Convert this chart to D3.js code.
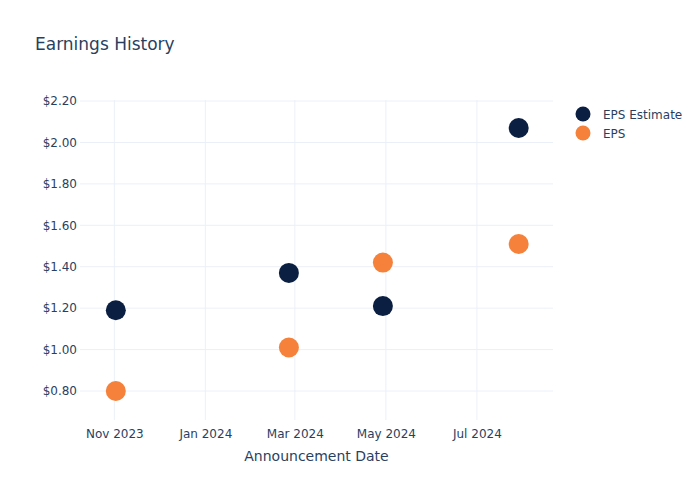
<!DOCTYPE html>
<html><head><meta charset="utf-8">
<script src="https://cdn.jsdelivr.net/npm/d3@7"></script>
<style>body{margin:0;background:#fff}svg{display:block}text{font-family:"DejaVu Sans",verdana,arial,sans-serif;fill:#2a3f5f}</style>
</head><body><svg id="c" width="700" height="500"></svg>
<script>
const dates = ["2023-11-02","2024-02-26","2024-04-29","2024-07-29"];
const epsEstimate = [1.19, 1.37, 1.21, 2.07];
const eps = [0.80, 1.01, 1.42, 1.51];
const seriesNames = ["EPS Estimate","EPS"];
const yTicks = [0.8,1.0,1.2,1.4,1.6,1.8,2.0,2.2];
const xTicks = ["2023-11-01","2024-01-01","2024-03-01","2024-05-01","2024-07-01"];
const colors = ["#0b1f42","#f5813a"];

const svg = d3.select("#c");
const L=80, R=553, T=100, B=420;
const parse = d3.utcParse("%Y-%m-%d");
const x = d3.scaleUtc().domain([parse("2023-10-09"), parse("2024-08-21")]).range([L,R]);
const y = d3.scaleLinear().domain([0.66, 2.205]).range([B,T]);

// grid
svg.append("g").selectAll("line").data(yTicks).join("line")
  .attr("x1",L).attr("x2",R).attr("y1",d=>y(d)).attr("y2",d=>y(d))
  .attr("stroke","#ebf0f8").attr("stroke-width",1);
svg.append("g").selectAll("line").data(xTicks).join("line")
  .attr("x1",d=>x(parse(d))).attr("x2",d=>x(parse(d))).attr("y1",T).attr("y2",B)
  .attr("stroke","#ebf0f8").attr("stroke-width",1);

// axes
const yAxis = d3.axisLeft(y).tickValues(yTicks).tickFormat(d=>"$"+d3.format(".2f")(d)).tickSize(0).tickPadding(3);
const gy = svg.append("g").attr("transform",`translate(${L},0)`).call(yAxis);
gy.select(".domain").remove();
gy.selectAll("text").style("font-size","12px").attr("fill","#2a3f5f");

const xAxis = d3.axisBottom(x).tickValues(xTicks.map(parse)).tickFormat(d3.utcFormat("%b %Y")).tickSize(0).tickPadding(9);
const gx = svg.append("g").attr("transform",`translate(0,${B})`).call(xAxis);
gx.select(".domain").remove();
gx.selectAll("text").style("font-size","12px").attr("fill","#2a3f5f");

// points
const series = [epsEstimate, eps];
series.forEach((vals,i)=>{
  svg.append("g").selectAll("circle").data(vals).join("circle")
    .attr("cx",(d,j)=>x(parse(dates[j]))).attr("cy",d=>y(d)).attr("r",10)
    .attr("fill",colors[i]);
});

// title
svg.append("text").attr("x",35).attr("y",50).style("font-size","17px").text("Earnings History");
svg.append("text").attr("x",(L+R)/2).attr("y",461).attr("text-anchor","middle").style("font-size","14px").text("Announcement Date");

// legend
const lg = svg.append("g").selectAll("g").data(seriesNames).join("g")
  .attr("transform",(d,i)=>`translate(583,${114+i*19})`);
lg.append("circle").attr("r",7.5).attr("fill",(d,i)=>colors[i]);
lg.append("text").attr("x",20).attr("y",4.5).style("font-size","12px").text(d=>d);
</script></body></html>
